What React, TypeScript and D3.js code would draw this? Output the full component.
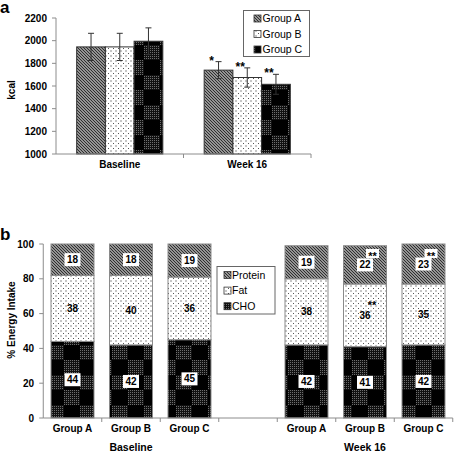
import React from "react";
import * as d3 from "d3";

// ---- Panel a: energy intake (kcal) ----
const groups = ["Group A", "Group B", "Group C"];
const periods = ["Baseline", "Week 16"];
const kcalBaseline = [1945, 1945, 1995];
const kcalWeek16 = [1740, 1675, 1615];
const sdBaseline = [120, 120, 118];
const sdWeek16 = [75, 85, 88];
const sigWeek16 = ["*", "**", "**"];
const kcalTicks = [1000, 1200, 1400, 1600, 1800, 2000, 2200];

// ---- Panel b: % energy intake ----
const macroLegend = ["Protein", "Fat", "CHO"];
const choBaseline = [44, 42, 45];
const fatBaseline = [38, 40, 36];
const proteinBaseline = [18, 18, 19];
const choWeek16 = [42, 41, 42];
const fatWeek16 = [38, 36, 35];
const proteinWeek16 = [19, 22, 23];
const proteinSigWeek16 = ["", "**", "**"];
const fatSigWeek16 = ["", "**", ""];
const pctTicks = [0, 20, 40, 60, 80, 100];

const FONT = "'Liberation Sans', Arial, Helvetica, sans-serif";
const groupFills = ["url(#hatch)", "url(#dots)", "url(#checker)"];
const AXIS = "#8c8c8c";

export default function App() {
  // panel a scales
  const yTop = d3.scaleLinear().domain([1000, 2200]).range([154, 18]);
  const xPeriod = d3.scaleBand<string>().domain(periods).range([56, 311]);
  const xGroup = d3
    .scaleBand<string>()
    .domain(groups)
    .range([0, xPeriod.bandwidth()])
    .paddingInner(0)
    .paddingOuter(0.72);

  const kcalMeans = [kcalBaseline, kcalWeek16];
  const kcalSds = [sdBaseline, sdWeek16];

  // panel b scales
  const slotKeys = [
    ...groups.map((g) => `Baseline|${g}`),
    "gap",
    ...groups.map((g) => `Week 16|${g}`),
  ];
  const xSlot = d3
    .scaleBand<string>()
    .domain(slotKeys)
    .range([43.25, 452.75])
    .paddingInner(0.265)
    .paddingOuter(0.1325);
  const step = xSlot.step();
  const yBot = d3.scaleLinear().domain([0, 100]).range([418, 244]);

  const stackRows = [
    { period: "Baseline", cho: choBaseline, fat: fatBaseline, protein: proteinBaseline, pSig: ["", "", ""], fSig: ["", "", ""] },
    { period: "Week 16", cho: choWeek16, fat: fatWeek16, protein: proteinWeek16, pSig: proteinSigWeek16, fSig: fatSigWeek16 },
  ];

  const bars: any[] = [];
  stackRows.forEach((row) => {
    groups.forEach((g, i) => {
      const key = `${row.period}|${g}`;
      const data = [{ cho: row.cho[i], fat: row.fat[i], protein: row.protein[i] }];
      const stacked = d3.stack<any>().keys(["cho", "fat", "protein"])(data);
      bars.push({ key, stacked, pSig: row.pSig[i], fSig: row.fSig[i] });
    });
  });
  const segFill: Record<string, string> = {
    cho: "url(#checker)",
    fat: "url(#dots)",
    protein: "url(#hatch)",
  };

  const labelBox = (cx: number, cy: number, text: string, k: string) => (
    <g key={k}>
      <rect x={cx - 8} y={cy - 6.5} width={16} height={13} fill="#fff" />
      <text x={cx} y={cy + 3.6} textAnchor="middle" fontSize={10} fontWeight="bold" fill="#000">
        {text}
      </text>
    </g>
  );

  const slotBoundaries = d3.range(1, slotKeys.length + 1).map((k) => 43.25 + k * step);

  return (
    <svg
      width={454}
      height={454}
      style={{ position: "absolute", left: 0, top: 0, background: "#fff" }}
      fontFamily={FONT}
    >
      <defs>
        <pattern id="hatch" width={3} height={3} patternUnits="userSpaceOnUse">
          <rect width={3} height={3} fill="#bdbdbd" />
          <path d="M-1,-1 L4,4 M-1,2 L1,4 M2,-1 L4,1" stroke="#262626" strokeWidth={1.05} />
        </pattern>
        <pattern id="dots" width={5} height={5} patternUnits="userSpaceOnUse">
          <rect width={5} height={5} fill="#fff" />
          <rect x={0.5} y={0.5} width={1} height={1} fill="#222" />
          <rect x={3} y={3} width={1} height={1} fill="#555" />
        </pattern>
        <pattern id="mesh" width={2} height={2} patternUnits="userSpaceOnUse">
          <rect width={2} height={2} fill="#111" />
          <rect width={1} height={1} fill="#6e6e6e" />
        </pattern>
        <pattern id="checker" width={32} height={30} patternUnits="userSpaceOnUse">
          <rect width={32} height={30} fill="#000" />
          <rect x={0} y={0} width={16} height={15} fill="url(#mesh)" />
          <rect x={16} y={15} width={16} height={15} fill="url(#mesh)" />
        </pattern>
      </defs>

      {/* ================= Panel a ================= */}
      <text x={0} y={13} fontSize={17} fontWeight="bold">a</text>
      <text
        transform="translate(15,90) rotate(-90)"
        textAnchor="middle"
        fontSize={10}
        fontWeight="bold"
      >
        kcal
      </text>

      {/* y axis */}
      <line x1={56} x2={56} y1={yTop(2200)} y2={yTop(1000)} stroke={AXIS} />
      {kcalTicks.map((t) => (
        <g key={`yt${t}`}>
          <line x1={52} x2={56} y1={yTop(t)} y2={yTop(t)} stroke={AXIS} />
          <text x={47} y={yTop(t) + 3.6} textAnchor="end" fontSize={10} fontWeight="bold">
            {t}
          </text>
        </g>
      ))}

      {/* bars */}
      {periods.map((p, pi) =>
        groups.map((g, gi) => {
          const x = (xPeriod(p) as number) + (xGroup(g) as number);
          const w = xGroup.bandwidth();
          const v = kcalMeans[pi][gi];
          return (
            <rect
              key={`kb${p}${g}`}
              x={x}
              y={yTop(v)}
              width={w}
              height={yTop(1000) - yTop(v)}
              fill={groupFills[gi]}
              stroke="#333"
              strokeWidth={1}
            />
          );
        })
      )}

      {/* error bars */}
      {periods.map((p, pi) =>
        groups.map((g, gi) => {
          const cx = (xPeriod(p) as number) + (xGroup(g) as number) + xGroup.bandwidth() / 2;
          const v = kcalMeans[pi][gi];
          const sd = kcalSds[pi][gi];
          return (
            <g key={`eb${p}${g}`} stroke="#333" strokeWidth={1}>
              <line x1={cx} x2={cx} y1={yTop(v + sd)} y2={yTop(v - sd)} />
              <line x1={cx - 3} x2={cx + 3} y1={yTop(v + sd)} y2={yTop(v + sd)} />
              <line x1={cx - 3} x2={cx + 3} y1={yTop(v - sd)} y2={yTop(v - sd)} />
            </g>
          );
        })
      )}

      {/* significance */}
      {groups.map((g, gi) => {
        const cx = (xPeriod("Week 16") as number) + (xGroup(g) as number) + xGroup.bandwidth() / 2;
        const v = kcalWeek16[gi] + sdWeek16[gi];
        return (
          <text
            key={`sig${g}`}
            x={cx - 7}
            y={yTop(v) + 3}
            textAnchor="middle"
            fontSize={12}
            fontWeight="bold"
          >
            {sigWeek16[gi]}
          </text>
        );
      })}

      {/* x axis */}
      <line x1={56} x2={311} y1={154} y2={154} stroke={AXIS} />
      {[xPeriod("Week 16") as number, 311].map((x) => (
        <line key={`xt${x}`} x1={x} x2={x} y1={154} y2={158} stroke={AXIS} />
      ))}
      {periods.map((p) => (
        <text
          key={`pl${p}`}
          x={(xPeriod(p) as number) + xPeriod.bandwidth() / 2}
          y={168}
          textAnchor="middle"
          fontSize={10}
          fontWeight="bold"
        >
          {p}
        </text>
      ))}

      {/* legend a */}
      <rect x={243.5} y={10.5} width={66} height={46} fill="#fff" stroke="#666" />
      {groups.map((g, gi) => {
        const cy = 18.5 + gi * 15.5;
        return (
          <g key={`lg${g}`}>
            <rect x={254} y={cy - 3.5} width={7} height={7} fill={groupFills[gi]} stroke="#333" strokeWidth={0.8} />
            <text x={262.5} y={cy + 3.8} fontSize={10.5}>
              {g}
            </text>
          </g>
        );
      })}

      {/* ================= Panel b ================= */}
      <text x={0} y={240} fontSize={17} fontWeight="bold">b</text>
      <text
        transform="translate(15,320) rotate(-90)"
        textAnchor="middle"
        fontSize={10}
        fontWeight="bold"
      >
        % Energy Intake
      </text>

      {/* y axis */}
      <line x1={43.25} x2={43.25} y1={yBot(100)} y2={yBot(0)} stroke={AXIS} />
      {pctTicks.map((t) => (
        <g key={`pt${t}`}>
          <line x1={39.25} x2={43.25} y1={yBot(t)} y2={yBot(t)} stroke={AXIS} />
          <text x={34} y={yBot(t) + 3.6} textAnchor="end" fontSize={10} fontWeight="bold">
            {t}
          </text>
        </g>
      ))}

      {/* stacked bars */}
      {bars.map((b) => {
        const x = xSlot(b.key) as number;
        const w = xSlot.bandwidth();
        const cx = x + w / 2;
        return (
          <g key={`sb${b.key}`}>
            {b.stacked.map((s: any) => {
              const y0 = s[0][0];
              const y1 = s[0][1];
              return (
                <rect
                  key={s.key}
                  x={x}
                  y={yBot(y1)}
                  width={w}
                  height={yBot(y0) - yBot(y1)}
                  fill={segFill[s.key]}
                  stroke="#8a8a8a"
                  strokeWidth={1}
                />
              );
            })}
            {b.stacked.map((s: any) => {
              const y0 = s[0][0];
              const y1 = s[0][1];
              const cy = yBot((y0 + y1) / 2);
              const val = y1 - y0;
              if (s.key === "fat") {
                return (
                  <g key={`l${s.key}`}>
                    <text x={cx} y={cy + 3.6} textAnchor="middle" fontSize={10} fontWeight="bold">
                      {val}
                    </text>
                  </g>
                );
              }
              return labelBox(cx, cy, String(val), `l${s.key}`);
            })}
            {b.pSig ? (
              <g>
                <rect x={cx + 1} y={yBot(100) + 5} width={13} height={9} fill="#fff" />
                <text x={cx + 7.5} y={yBot(100) + 16} textAnchor="middle" fontSize={11} fontWeight="bold">
                  {b.pSig}
                </text>
              </g>
            ) : null}
            {b.fSig ? (
              <text
                x={cx + 7}
                y={yBot((b.stacked[1][0][0] + b.stacked[1][0][1]) / 2) - 6}
                textAnchor="middle"
                fontSize={11}
                fontWeight="bold"
              >
                {b.fSig}
              </text>
            ) : null}
          </g>
        );
      })}

      {/* x axis */}
      <line x1={43.25} x2={452.75} y1={418} y2={418} stroke={AXIS} />
      {slotBoundaries.map((x) => (
        <line key={`sbd${x}`} x1={x} x2={x} y1={418} y2={422} stroke={AXIS} />
      ))}
      {bars.map((b) => (
        <text
          key={`gl${b.key}`}
          x={(xSlot(b.key) as number) + xSlot.bandwidth() / 2}
          y={431.5}
          textAnchor="middle"
          fontSize={10}
          fontWeight="bold"
        >
          {b.key.split("|")[1]}
        </text>
      ))}
      {periods.map((p) => (
        <text
          key={`bpl${p}`}
          x={(xSlot(`${p}|Group B`) as number) + xSlot.bandwidth() / 2}
          y={451}
          textAnchor="middle"
          fontSize={10.5}
          fontWeight="bold"
        >
          {p}
        </text>
      ))}

      {/* legend b */}
      <rect x={217} y={266.5} width={58} height={47.5} fill="#fff" stroke="#666" />
      {macroLegend.map((m, i) => {
        const cy = 275 + i * 15.6;
        const fill = m === "Protein" ? "url(#hatch)" : m === "Fat" ? "url(#dots)" : "url(#checker)";
        return (
          <g key={`lm${m}`}>
            <rect x={224} y={cy - 3.5} width={7} height={7} fill={fill} stroke="#333" strokeWidth={0.8} />
            <text x={232} y={cy + 3.8} fontSize={10.5}>
              {m}
            </text>
          </g>
        );
      })}
    </svg>
  );
}
